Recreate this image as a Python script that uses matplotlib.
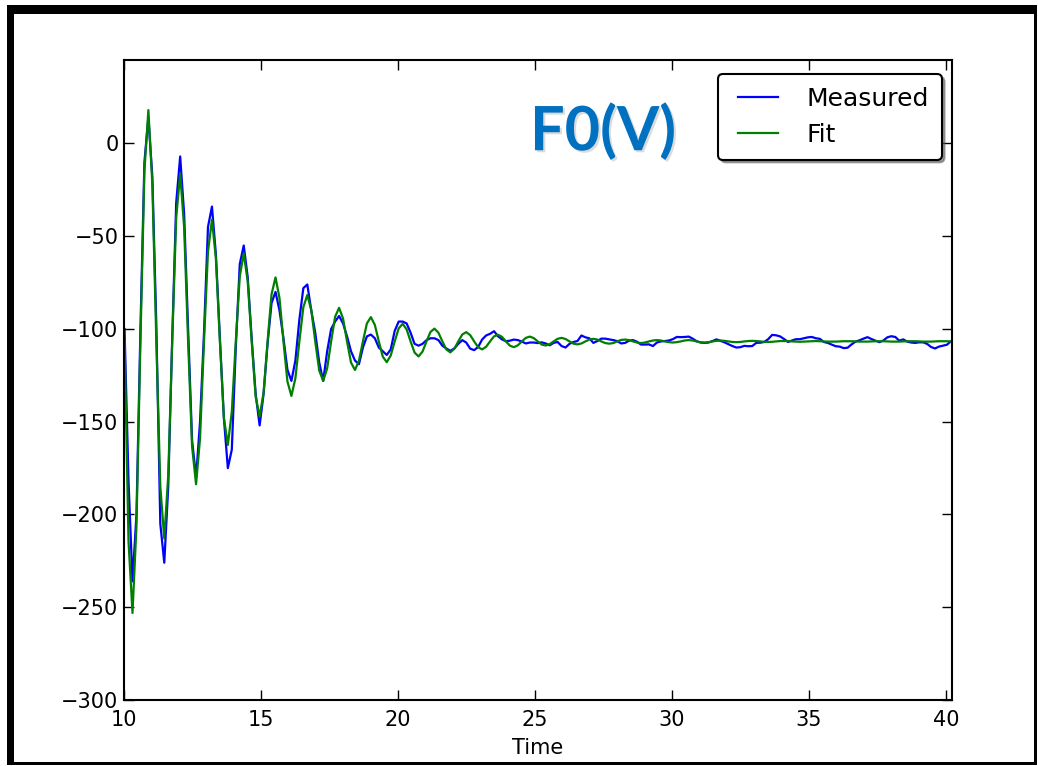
import matplotlib
matplotlib.use("Agg")
import matplotlib.pyplot as plt
import matplotlib.patheffects as pe
from matplotlib.patches import Rectangle

# sample times (s)
time = [
    10.02, 10.165, 10.31, 10.455, 10.6, 10.745, 10.89, 11.035, 11.18, 11.325,
    11.47, 11.615, 11.76, 11.905, 12.05, 12.195, 12.34, 12.485, 12.63, 12.775,
    12.92, 13.065, 13.21, 13.355, 13.5, 13.645, 13.79, 13.935, 14.08, 14.225,
    14.37, 14.515, 14.66, 14.805, 14.95, 15.095, 15.24, 15.385, 15.53, 15.675,
    15.82, 15.965, 16.11, 16.255, 16.4, 16.545, 16.69, 16.835, 16.98, 17.125,
    17.27, 17.415, 17.56, 17.705, 17.85, 17.995, 18.14, 18.285, 18.43, 18.575,
    18.72, 18.865, 19.01, 19.155, 19.3, 19.445, 19.59, 19.735, 19.88, 20.025,
    20.17, 20.315, 20.46, 20.605, 20.75, 20.895, 21.04, 21.185, 21.33, 21.475,
    21.62, 21.765, 21.91, 22.055, 22.2, 22.345, 22.49, 22.635, 22.78, 22.925,
    23.07, 23.215, 23.36, 23.505, 23.65, 23.795, 23.94, 24.085, 24.23, 24.375,
    24.52, 24.665, 24.81, 24.955, 25.1, 25.245, 25.39, 25.535, 25.68, 25.825,
    25.97, 26.115, 26.26, 26.405, 26.55, 26.695, 26.84, 26.985, 27.13, 27.275,
    27.42, 27.565, 27.71, 27.855, 28.0, 28.145, 28.29, 28.435, 28.58, 28.725,
    28.87, 29.015, 29.16, 29.305, 29.45, 29.595, 29.74, 29.885, 30.03, 30.175,
    30.32, 30.465, 30.61, 30.755, 30.9, 31.045, 31.19, 31.335, 31.48, 31.625,
    31.77, 31.915, 32.06, 32.205, 32.35, 32.495, 32.64, 32.785, 32.93, 33.075,
    33.22, 33.365, 33.51, 33.655, 33.8, 33.945, 34.09, 34.235, 34.38, 34.525,
    34.67, 34.815, 34.96, 35.105, 35.25, 35.395, 35.54, 35.685, 35.83, 35.975,
    36.12, 36.265, 36.41, 36.555, 36.7, 36.845, 36.99, 37.135, 37.28, 37.425,
    37.57, 37.715, 37.86, 38.005, 38.15, 38.295, 38.44, 38.585, 38.73, 38.875,
    39.02, 39.165, 39.31, 39.455, 39.6, 39.745, 39.89, 40.035, 40.18, 40.325,
]

# measured F0(V)
measured = [
    -100, -182, -236, -200, -100, -10, 14, -18, -98, -205,
    -226, -185, -105, -32, -7, -38, -100, -160, -180, -150,
    -102, -45, -34, -60, -105, -148, -175, -165, -110, -65,
    -55, -72, -105, -135, -152, -135, -108, -86, -80, -90,
    -105, -122, -128, -117, -95, -78, -76, -90, -102, -118,
    -128, -112, -100, -96, -93, -97, -104, -112, -117, -119,
    -110, -104, -103, -105, -110, -112, -114, -111, -101, -96,
    -96, -97, -102, -108, -109, -108, -106, -105, -105, -106,
    -109, -110.5, -111.8, -110.5, -108, -106, -107.3, -110.6, -111.4, -109.7,
    -105.7, -103.5, -102.6, -101.2, -103.9, -105.6, -106.6, -106.3, -105.7, -106,
    -106.8, -107.8, -107.3, -107.3, -107.6, -107.2, -107.8, -108.8, -107.5, -107,
    -109.2, -110, -108, -107, -106.5, -103.5, -104.5, -105, -107.5, -106.5,
    -105.2, -105.2, -105.6, -106, -106.5, -107.8, -107.5, -106.3, -106, -106.9,
    -108.4, -108.4, -108.3, -109.2, -107.3, -106.7, -106.5, -106.2, -105.5, -104.3,
    -104.4, -104.3, -104.1, -105.2, -106.6, -107.3, -107.5, -107.3, -106.5, -105.6,
    -106.4, -107.2, -108.2, -109.2, -110, -109.8, -109.1, -109.3, -109.2, -107.5,
    -107.4, -107, -105.5, -103.2, -103.4, -104, -105.4, -107, -106.2, -105.5,
    -105.5, -105, -104.5, -104.3, -105, -105.3, -107, -107.5, -108.4, -109.3,
    -109.5, -110.3, -110.1, -108.3, -106.8, -106.1, -105.2, -104.4, -105.4, -106.3,
    -107.1, -106.2, -104.5, -103.9, -104.3, -106.3, -105.6, -106.8, -107.3, -107.5,
    -107.2, -107.2, -108, -109.7, -110.5, -109.5, -109, -108.5, -106.6, -106,
]

# fitted curve
fit = [
    -106.7, -214.5, -253.1, -206.2, -106.7, -14.9, 18.0, -22.0, -106.7, -184.9,
    -212.9, -178.8, -106.7, -40.1, -16.3, -45.3, -106.7, -163.4, -183.7, -159.0,
    -106.7, -58.4, -41.1, -62.2, -106.7, -147.8, -162.5, -144.6, -106.7, -71.7,
    -59.2, -74.4, -106.7, -136.5, -147.2, -134.2, -106.7, -81.3, -72.2, -83.3,
    -106.7, -128.3, -136.1, -126.6, -106.7, -88.3, -81.7, -89.7, -106.7, -122.4,
    -128.0, -121.2, -106.7, -93.4, -88.6, -94.4, -106.7, -118.1, -122.1, -117.2,
    -106.7, -97.0, -93.6, -97.8, -106.7, -114.9, -117.9, -114.3, -106.7, -99.7,
    -97.2, -100.2, -106.7, -112.7, -114.8, -112.2, -106.7, -101.6, -99.8, -102.0,
    -106.7, -111.0, -112.6, -110.7, -106.7, -103.0, -101.7, -103.3, -106.7, -109.8,
    -111.0, -109.6, -106.7, -104.0, -103.1, -104.2, -106.7, -109.0, -109.8, -108.8,
    -106.7, -104.8, -104.1, -104.9, -106.7, -108.4, -108.9, -108.2, -106.7, -105.3,
    -104.8, -105.4, -106.7, -107.9, -108.3, -107.8, -106.7, -105.7, -105.3, -105.7,
    -106.7, -107.6, -107.9, -107.6, -106.7, -105.9, -105.7, -106.0, -106.7, -107.3,
    -107.6, -107.3, -106.7, -106.2, -106.0, -106.2, -106.7, -107.1, -107.3, -107.1,
    -106.7, -106.2, -106.0, -106.2, -106.7, -107.2, -107.3, -107.1, -106.7, -106.4,
    -106.2, -106.4, -106.7, -107.0, -107.1, -107.0, -106.7, -106.5, -106.4, -106.5,
    -106.7, -106.9, -107.0, -106.9, -106.7, -106.5, -106.5, -106.5, -106.7, -106.8,
    -106.9, -106.8, -106.7, -106.6, -106.5, -106.6, -106.7, -106.8, -106.8, -106.8,
    -106.7, -106.6, -106.6, -106.6, -106.7, -106.8, -106.8, -106.8, -106.7, -106.6,
    -106.6, -106.6, -106.7, -106.8, -106.8, -106.8, -106.7, -106.6, -106.6, -106.6,
    -106.7, -106.8, -106.8, -106.8, -106.7, -106.6, -106.6, -106.6, -106.7, -106.8,
]

x_ticks = [10, 15, 20, 25, 30, 35, 40]
y_ticks = [0, -50, -100, -150, -200, -250, -300]

W, H = 1038, 766
fig = plt.figure(figsize=(W / 100, H / 100), dpi=100, facecolor="white")

# black picture frame around the figure
frame = [(7, 5, 1030, 9), (7, 5, 7, 760), (1034, 5, 3, 760), (7, 762, 1030, 3)]
for x0, y0, w, h in frame:
    fig.add_artist(Rectangle((x0 / W, 1 - (y0 + h) / H), w / W, h / H,
                             transform=fig.transFigure, color="black", lw=0))

ax = fig.add_axes([124 / W, 66 / H, 828 / W, 640 / H])
ax.plot(time, measured, color="b", lw=1.6, label="Measured")
ax.plot(time, fit, color="g", lw=1.6, label="Fit")

ax.set_xlim(10, 40.22)
ax.set_ylim(-300, 45)
ax.set_xticks(x_ticks)
ax.set_yticks(y_ticks)
ax.tick_params(direction="in", length=7, width=1, top=True, right=True,
               labelsize=15)
ax.tick_params(axis="x", pad=7)
ax.tick_params(axis="y", pad=4)
for s in ax.spines.values():
    s.set_linewidth(1.5)
ax.set_xlabel("Time", fontsize=15, labelpad=6)

leg = ax.legend(loc="upper right", bbox_to_anchor=(0.9876, 0.978),
                borderaxespad=0, fontsize=18, numpoints=2, fancybox=True,
                shadow=True, framealpha=1, edgecolor="black",
                handlelength=2.2, handletextpad=0.85, borderpad=0.5,
                labelspacing=0.5)
leg.get_frame().set_linewidth(1.5)

ax.text(0.5785, 0.859, "F0(V)", transform=ax.transAxes, ha="center",
        va="baseline", fontsize=44, fontweight="bold", family="Lato",
        color="#0070C0",
        path_effects=[pe.SimplePatchShadow(offset=(1.5, -1.5),
                                           shadow_rgbFace="0.6", alpha=0.35),
                      pe.Normal()])

fig.savefig("out.png", dpi=100, facecolor="white")
